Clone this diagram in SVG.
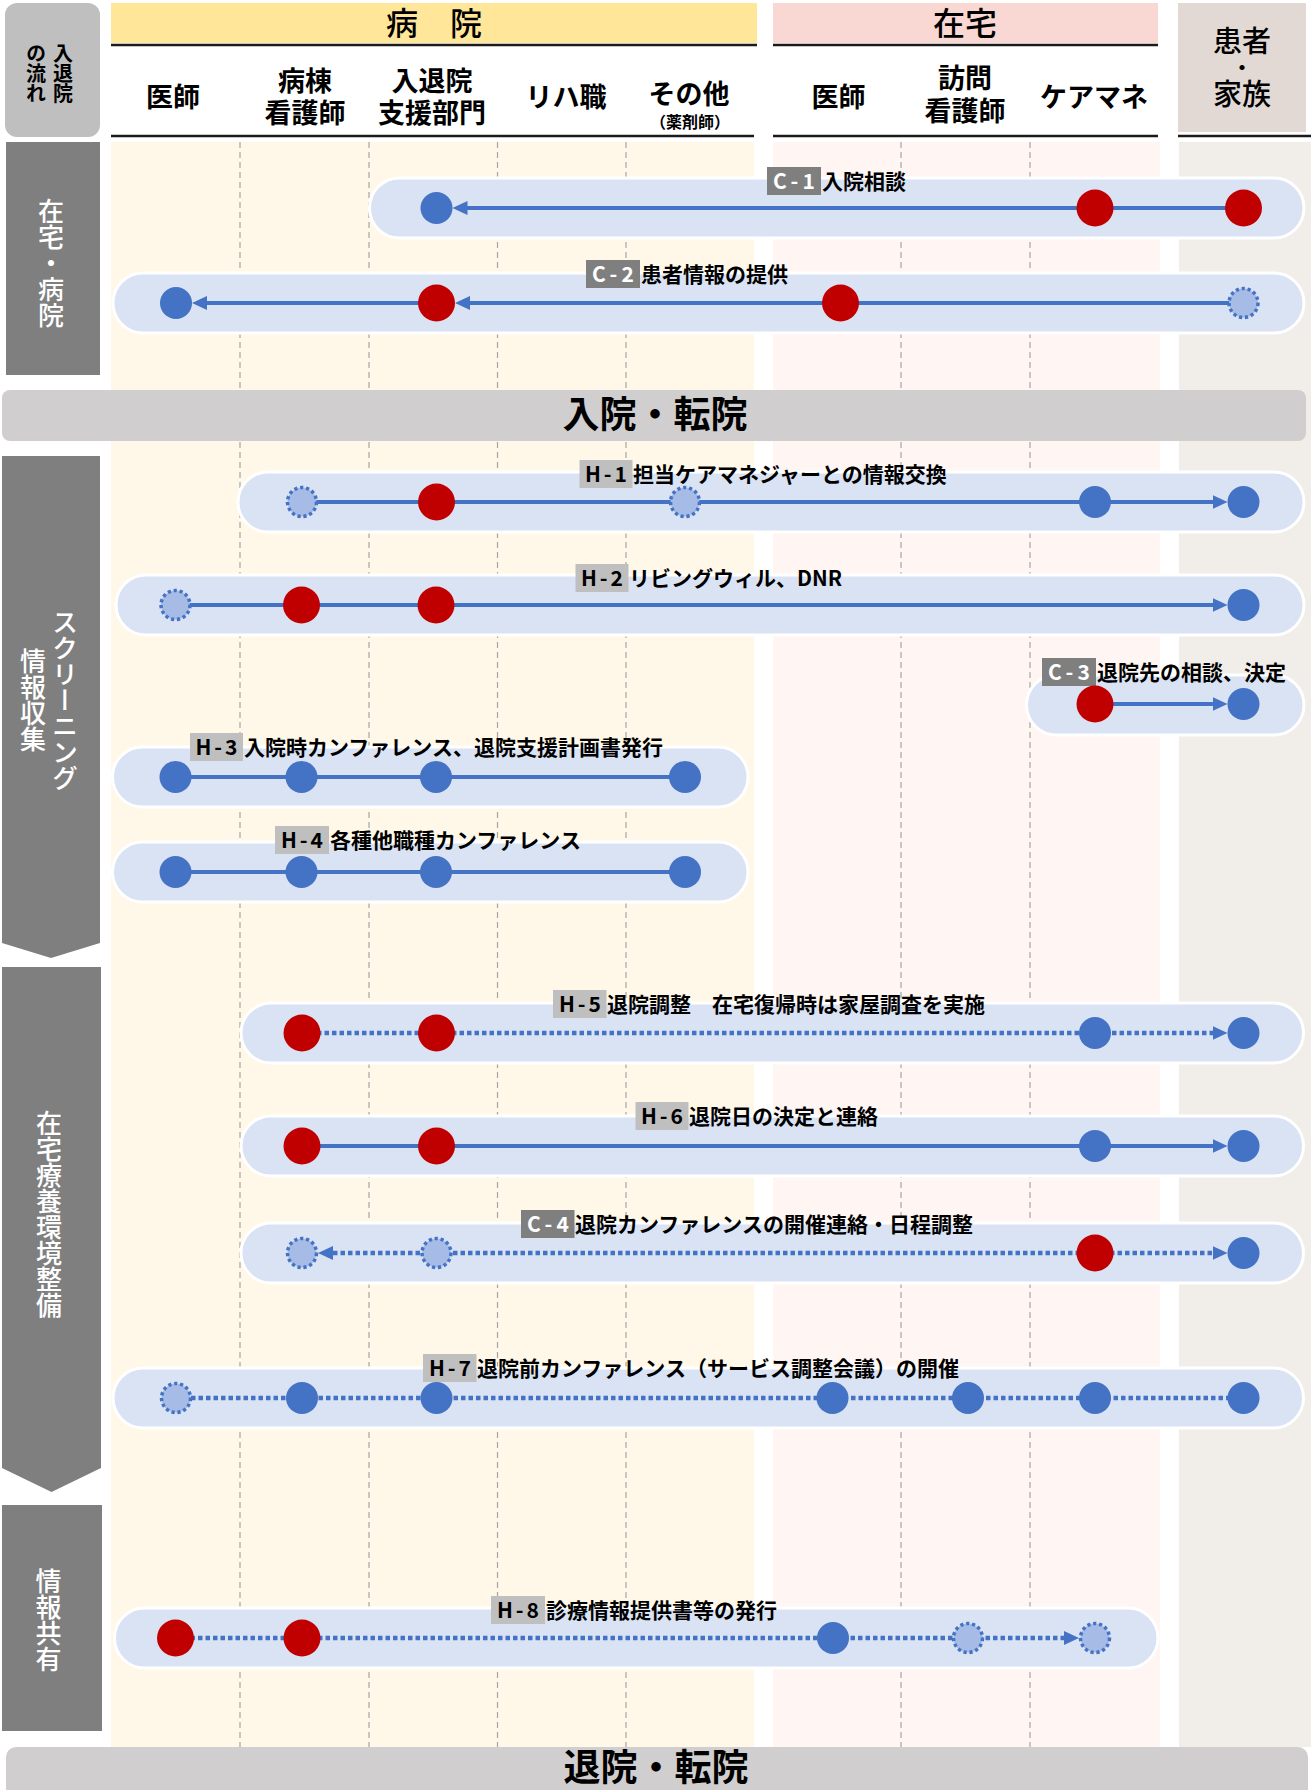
<svg xmlns="http://www.w3.org/2000/svg" width="1311" height="1790" viewBox="0 0 1311 1790">
<defs>
<style>
text{font-family:'Noto Sans CJK JP','Noto Sans',sans-serif;}
.hdr{font-size:27px;font-weight:700;fill:#000;text-anchor:middle;}
.ttl{font-size:32px;font-weight:500;fill:#000;text-anchor:middle;}
.pt{font-size:29px;font-weight:500;fill:#000;text-anchor:middle;}
.vt{font-size:26px;font-weight:500;fill:#fff;writing-mode:vertical-rl;}
.vtk{font-size:20px;font-weight:700;fill:#000;writing-mode:vertical-rl;}
.band{fill:#D0CECE;}
.bandt{font-size:37px;font-weight:700;fill:#000;text-anchor:middle;}
.side{fill:#7F7F7F;}
.pill{fill:#DAE3F3;stroke:#fff;stroke-width:3;}
.lbl{font-size:21px;font-weight:700;fill:#000;}
.tagH{fill:#BFBFBF;}
.tagC{fill:#7F7F7F;}
.tagHt{font-size:21px;font-weight:700;fill:#000;text-anchor:middle;}
.tagCt{font-size:21px;font-weight:700;fill:#fff;text-anchor:middle;}
.col{stroke:#A6A6A6;stroke-width:1.2;stroke-dasharray:6 4;}
.hl{stroke:#1a1a1a;stroke-width:2.5;}
.ln{stroke:#4472C4;stroke-width:4;fill:none;}
.dl{stroke:#4472C4;stroke-width:4.5;fill:none;stroke-dasharray:4.5 3;}
.bd{fill:#4472C4;}
.rd{fill:#C00000;}
.dd{fill:#A6BBE6;stroke:#4472C4;stroke-width:3.5;stroke-dasharray:3.2 2.8;}
</style>
<marker id="arr" markerUnits="userSpaceOnUse" markerWidth="16" markerHeight="14" refX="7" refY="7" orient="auto" viewBox="0 0 16 14"><path d="M0,0 L15,7 L0,14 z" fill="#4472C4"/></marker>
</defs>
<rect width="1311" height="1790" fill="#fff"/>

<g id="columns">
<rect x="111" y="142" width="643" height="1605" fill="#FFF8E8"/>
<rect x="773" y="142" width="387" height="1605" fill="#FFF5F3"/>
<rect x="1179" y="142" width="132" height="1605" fill="#F1EEEA"/>
<line class="col" x1="240" y1="142" x2="240" y2="1747"/>
<line class="col" x1="369" y1="142" x2="369" y2="1747"/>
<line class="col" x1="497.5" y1="142" x2="497.5" y2="1747"/>
<line class="col" x1="626" y1="142" x2="626" y2="1747"/>
<line class="col" x1="901" y1="142" x2="901" y2="1747"/>
<line class="col" x1="1030" y1="142" x2="1030" y2="1747"/>
</g>

<g id="header">
<rect x="111" y="3" width="646" height="40" fill="#FFE699"/>
<rect x="773" y="3" width="385" height="40" fill="#F9D8D3"/>
<rect x="1178" y="3" width="128" height="129" fill="#E2D9D4"/>
<line class="hl" x1="111" y1="45" x2="757" y2="45"/>
<line class="hl" x1="111" y1="136" x2="754" y2="136"/>
<line class="hl" x1="773" y1="45" x2="1158" y2="45"/>
<line class="hl" x1="773" y1="136" x2="1158" y2="136"/>
<line class="hl" x1="1178" y1="136" x2="1311" y2="136"/>
<text class="ttl" x="434" y="35">病　院</text>
<text class="ttl" x="965" y="35">在宅</text>
<text class="hdr" x="173" y="107">医師</text>
<text class="hdr"><tspan x="305" y="91">病棟</tspan><tspan x="305" y="123">看護師</tspan></text>
<text class="hdr"><tspan x="432" y="91">入退院</tspan><tspan x="432" y="123">支援部門</tspan></text>
<text class="hdr" x="566" y="107">リハ職</text>
<text class="hdr"><tspan x="689" y="104">その他</tspan><tspan x="690" y="128" font-size="16">（薬剤師）</tspan></text>
<text class="hdr" x="838.5" y="107">医師</text>
<text class="hdr"><tspan x="965" y="88">訪問</tspan><tspan x="965" y="121">看護師</tspan></text>
<text class="hdr" x="1094" y="107">ケアマネ</text>
<text class="pt"><tspan x="1242" y="52">患者</tspan><tspan x="1242" y="75" font-size="20" font-weight="700">・</tspan><tspan x="1242" y="105">家族</tspan></text>
</g>

<g id="phases">
<rect x="5" y="3" width="95" height="134" rx="12" fill="#BFBFBF"/>
<text class="vtk" x="63" y="43">入退院</text>
<text class="vtk" x="36" y="43">の流れ</text>
<rect class="side" x="6" y="142" width="94" height="233"/>
<text class="vt" x="51" y="198">在宅・病院</text>
<polygon class="side" points="2,456 100,456 100,943 51,958 2,943"/>
<text class="vt" x="65" y="609">スクリーニング</text>
<text class="vt" x="33" y="648">情報収集</text>
<polygon class="side" points="2,967 101,967 101,1468 51.5,1492 2,1468"/>
<text class="vt" x="49" y="1110">在宅療養環境整備</text>
<rect class="side" x="2" y="1505" width="100" height="226"/>
<text class="vt" x="48.5" y="1568">情報共有</text>
</g>

<g id="band-admission">
<rect class="band" x="2" y="390" width="1304" height="51" rx="8"/>
<text class="bandt" x="655" y="428">入院・転院</text>
</g>
<g id="band-discharge">
<rect class="band" x="6" y="1747" width="1302" height="60" rx="10"/>
<text class="bandt" x="656" y="1781" font-size="36">退院・転院</text>
</g>

<g id="row-C1">
<rect class="pill" x="369.5" y="178" width="934.5" height="60" rx="30"/>
<rect class="tagC" x="767" y="167" width="54" height="28"/>
<text class="tagCt" x="794" y="189" textLength="42" lengthAdjust="spacing">C-1</text>
<text class="lbl" x="822" y="189">入院相談</text>
</g>
<g id="row-C2">
<rect class="pill" x="113" y="273" width="1191" height="60" rx="30"/>
<rect class="tagC" x="586" y="260" width="54" height="28"/>
<text class="tagCt" x="613" y="282" textLength="42" lengthAdjust="spacing">C-2</text>
<text class="lbl" x="641" y="282">患者情報の提供</text>
</g>
<g id="row-H1">
<rect class="pill" x="238" y="472" width="1066" height="60" rx="30"/>
<rect class="tagH" x="579.5" y="460" width="53" height="28"/>
<text class="tagHt" x="606" y="482" textLength="42" lengthAdjust="spacing">H-1</text>
<text class="lbl" x="633" y="482">担当ケアマネジャーとの情報交換</text>
</g>
<g id="row-H2">
<rect class="pill" x="116" y="575" width="1188" height="60" rx="30"/>
<rect class="tagH" x="575.5" y="564" width="53" height="28"/>
<text class="tagHt" x="602" y="586" textLength="42" lengthAdjust="spacing">H-2</text>
<text class="lbl" x="629" y="586">リビングウィル、DNR</text>
</g>
<g id="row-C3">
<rect class="pill" x="1026.5" y="675" width="277.5" height="60" rx="30"/>
<rect class="tagC" x="1042" y="658" width="54" height="28"/>
<text class="tagCt" x="1069" y="680" textLength="42" lengthAdjust="spacing">C-3</text>
<text class="lbl" x="1097" y="680">退院先の相談、決定</text>
</g>
<g id="row-H3">
<rect class="pill" x="112.5" y="747" width="635.5" height="60" rx="30"/>
<rect class="tagH" x="190" y="733" width="53" height="28"/>
<text class="tagHt" x="216.5" y="755" textLength="42" lengthAdjust="spacing">H-3</text>
<text class="lbl" x="244" y="755">入院時カンファレンス、退院支援計画書発行</text>
</g>
<g id="row-H4">
<rect class="pill" x="112.5" y="842" width="635.5" height="60" rx="30"/>
<rect class="tagH" x="275" y="826" width="54" height="28"/>
<text class="tagHt" x="302" y="848" textLength="42" lengthAdjust="spacing">H-4</text>
<text class="lbl" x="330" y="848">各種他職種カンファレンス</text>
</g>
<g id="row-H5">
<rect class="pill" x="241" y="1003" width="1062.5" height="60" rx="30"/>
<rect class="tagH" x="553" y="990" width="53.5" height="28"/>
<text class="tagHt" x="580" y="1012" textLength="42" lengthAdjust="spacing">H-5</text>
<text class="lbl" x="607" y="1012">退院調整　在宅復帰時は家屋調査を実施</text>
</g>
<g id="row-H6">
<rect class="pill" x="241" y="1116" width="1062.5" height="60" rx="30"/>
<rect class="tagH" x="635.5" y="1102" width="53" height="28"/>
<text class="tagHt" x="662" y="1124" textLength="42" lengthAdjust="spacing">H-6</text>
<text class="lbl" x="689" y="1124">退院日の決定と連絡</text>
</g>
<g id="row-C4">
<rect class="pill" x="241" y="1223" width="1062.5" height="60" rx="30"/>
<rect class="tagC" x="521" y="1210" width="53.5" height="28"/>
<text class="tagCt" x="548" y="1232" textLength="42" lengthAdjust="spacing">C-4</text>
<text class="lbl" x="575" y="1232">退院カンファレンスの開催連絡・日程調整</text>
</g>
<g id="row-H7">
<rect class="pill" x="113" y="1368" width="1190.5" height="60" rx="30"/>
<rect class="tagH" x="423" y="1354" width="53.5" height="28"/>
<text class="tagHt" x="450" y="1376" textLength="42" lengthAdjust="spacing">H-7</text>
<text class="lbl" x="477" y="1376">退院前カンファレンス（サービス調整会議）の開催</text>
</g>
<g id="row-H8">
<rect class="pill" x="114.5" y="1608" width="1043.5" height="60" rx="30"/>
<rect class="tagH" x="491" y="1596" width="54" height="28"/>
<text class="tagHt" x="518" y="1618" textLength="42" lengthAdjust="spacing">H-8</text>
<text class="lbl" x="546" y="1618">診療情報提供書等の発行</text>
</g>

<g id="connectors">
<line class="ln" x1="1243.5" y1="208" x2="460.5" y2="208" marker-end="url(#arr)"/>
<line class="ln" x1="1243.5" y1="303" x2="463" y2="303" marker-end="url(#arr)"/>
<line class="ln" x1="436.5" y1="303" x2="200" y2="303" marker-end="url(#arr)"/>
<line class="ln" x1="302" y1="502" x2="1219.5" y2="502" marker-end="url(#arr)"/>
<line class="ln" x1="175.5" y1="605" x2="1219.5" y2="605" marker-end="url(#arr)"/>
<line class="ln" x1="1095" y1="704" x2="1219.5" y2="704" marker-end="url(#arr)"/>
<line class="ln" x1="175.5" y1="777" x2="685" y2="777"/>
<line class="ln" x1="175.5" y1="872" x2="685" y2="872"/>
<line class="dl" x1="302" y1="1033" x2="1219.5" y2="1033" marker-end="url(#arr)"/>
<line class="ln" x1="302" y1="1146" x2="1219.5" y2="1146" marker-end="url(#arr)"/>
<line class="dl" x1="1095" y1="1253" x2="326" y2="1253" marker-end="url(#arr)"/>
<line class="dl" x1="1095" y1="1253" x2="1219.5" y2="1253" marker-end="url(#arr)"/>
<line class="dl" x1="176" y1="1398" x2="1243.5" y2="1398"/>
<line class="dl" x1="175.5" y1="1638" x2="1071" y2="1638" marker-end="url(#arr)"/>
</g>

<g id="points-C1">
<circle class="bd" cx="436.5" cy="208" r="16"/>
<circle class="rd" cx="1095" cy="208" r="18.5"/>
<circle class="rd" cx="1243.5" cy="208" r="18.5"/>
</g>
<g id="points-C2">
<circle class="bd" cx="176" cy="303" r="16"/>
<circle class="rd" cx="436.5" cy="303" r="18.5"/>
<circle class="rd" cx="840.5" cy="303" r="18.5"/>
<circle class="dd" cx="1243.5" cy="303" r="14.5"/>
</g>
<g id="points-H1">
<circle class="dd" cx="302" cy="502" r="14.5"/>
<circle class="rd" cx="436.5" cy="502" r="18.5"/>
<circle class="dd" cx="685" cy="502" r="14.5"/>
<circle class="bd" cx="1095" cy="502" r="16"/>
<circle class="bd" cx="1243.5" cy="502" r="16"/>
</g>
<g id="points-H2">
<circle class="dd" cx="175.5" cy="605" r="14.5"/>
<circle class="rd" cx="301.5" cy="605" r="18.5"/>
<circle class="rd" cx="436" cy="605" r="18.5"/>
<circle class="bd" cx="1243.5" cy="605" r="16"/>
</g>
<g id="points-C3">
<circle class="rd" cx="1095" cy="704" r="18.5"/>
<circle class="bd" cx="1243.5" cy="704" r="16"/>
</g>
<g id="points-H3">
<circle class="bd" cx="175.5" cy="777" r="16"/>
<circle class="bd" cx="301.5" cy="777" r="16"/>
<circle class="bd" cx="436" cy="777" r="16"/>
<circle class="bd" cx="685" cy="777" r="16"/>
</g>
<g id="points-H4">
<circle class="bd" cx="175.5" cy="872" r="16"/>
<circle class="bd" cx="301.5" cy="872" r="16"/>
<circle class="bd" cx="436" cy="872" r="16"/>
<circle class="bd" cx="685" cy="872" r="16"/>
</g>
<g id="points-H5">
<circle class="rd" cx="302" cy="1033" r="18.5"/>
<circle class="rd" cx="436.5" cy="1033" r="18.5"/>
<circle class="bd" cx="1095" cy="1033" r="16"/>
<circle class="bd" cx="1243.5" cy="1033" r="16"/>
</g>
<g id="points-H6">
<circle class="rd" cx="302" cy="1146" r="18.5"/>
<circle class="rd" cx="436.5" cy="1146" r="18.5"/>
<circle class="bd" cx="1095" cy="1146" r="16"/>
<circle class="bd" cx="1243.5" cy="1146" r="16"/>
</g>
<g id="points-C4">
<circle class="dd" cx="302" cy="1253" r="14.5"/>
<circle class="dd" cx="436.5" cy="1253" r="14.5"/>
<circle class="rd" cx="1095" cy="1253" r="18.5"/>
<circle class="bd" cx="1243.5" cy="1253" r="16"/>
</g>
<g id="points-H7">
<circle class="dd" cx="176" cy="1398" r="14.5"/>
<circle class="bd" cx="302" cy="1398" r="16"/>
<circle class="bd" cx="436.5" cy="1398" r="16"/>
<circle class="bd" cx="832.5" cy="1398" r="16"/>
<circle class="bd" cx="968" cy="1398" r="16"/>
<circle class="bd" cx="1095" cy="1398" r="16"/>
<circle class="bd" cx="1243.5" cy="1398" r="16"/>
</g>
<g id="points-H8">
<circle class="rd" cx="175.5" cy="1638" r="18.5"/>
<circle class="rd" cx="302" cy="1638" r="18.5"/>
<circle class="bd" cx="833" cy="1638" r="16"/>
<circle class="dd" cx="968" cy="1638" r="14.5"/>
<circle class="dd" cx="1095" cy="1638" r="14.5"/>
</g>
</svg>
